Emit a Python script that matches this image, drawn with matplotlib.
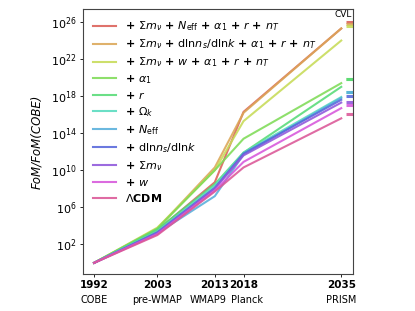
import numpy as np
import matplotlib
matplotlib.use("Agg")
import matplotlib.pyplot as plt
import seaborn as sns

years = [1992, 2003, 2013, 2018, 2035]
experiments = ["COBE", "pre-WMAP", "WMAP9", "Planck", "PRISM"]

labels = [
    r"+ $\Sigma m_\nu$ + $N_{\rm eff}$ + $\alpha_1$ + $r$ + $n_T$",
    r"+ $\Sigma m_\nu$ + ${\rm dln}n_s/{\rm dln}k$ + $\alpha_1$ + $r$ + $n_T$",
    r"+ $\Sigma m_\nu$ + $w$ + $\alpha_1$ + $r$ + $n_T$",
    r"+ $\alpha_1$",
    r"+ $r$",
    r"+ $\Omega_k$",
    r"+ $N_{\rm eff}$",
    r"+ ${\rm dln}n_s/{\rm dln}k$",
    r"+ $\Sigma m_\nu$",
    r"+ $w$",
    r"$\Lambda$CDM",
]

# log10(FoM/FoM(COBE)) per model at each experiment
logfom_sum_neff = [0, 3.5, 8.7, 16.3, 25.3]
logfom_sum_dlnns = [0, 3.7, 10.3, 16.2, 25.3]
logfom_sum_w = [0, 3.8, 10.0, 15.3, 24.0]
logfom_alpha1 = [0, 3.7, 10.0, 13.4, 19.4]
logfom_r = [0, 3.6, 8.5, 11.9, 19.0]
logfom_omegak = [0, 3.4, 8.3, 11.9, 17.9]
logfom_neff = [0, 3.2, 7.2, 11.7, 17.8]
logfom_dlnns = [0, 3.3, 8.1, 11.8, 17.6]
logfom_summnu = [0, 3.2, 8.0, 11.6, 17.3]
logfom_w = [0, 3.1, 7.8, 10.9, 16.7]
logfom_lcdm = [0, 3.0, 7.7, 10.3, 15.6]

# cosmic-variance-limit values
logfom_cvl = [25.95, 25.75, 25.55, 19.9, 19.9, 18.45, 18.45, 18.0, 17.4, 17.0, 16.1]

series = [logfom_sum_neff, logfom_sum_dlnns, logfom_sum_w, logfom_alpha1, logfom_r,
          logfom_omegak, logfom_neff, logfom_dlnns, logfom_summnu, logfom_w, logfom_lcdm]

colors = sns.color_palette("hls", 11)

fig = plt.figure(figsize=(4.15, 3.11), dpi=100)
ax = fig.add_axes([0.199, 0.119, 0.651, 0.852])

for vals, lab, c, cvl in zip(series, labels, colors, logfom_cvl):
    ax.plot(years, 10.0 ** np.array(vals), color=c, lw=1.5, alpha=0.88, label=lab)
    ax.plot([2035.9, 2037], [10.0 ** cvl] * 2, color=c, lw=2.2, alpha=0.88, solid_capstyle="butt")

ax.set_yscale("log")
ax.set_xlim(1990, 2037)
ax.set_ylim(10 ** -1.2, 10 ** 27.4)
ax.set_yticks([10.0 ** k for k in range(2, 27, 4)])
ax.yaxis.set_minor_locator(matplotlib.ticker.NullLocator())
ax.tick_params(axis="y", labelsize=8, length=2.5, width=0.6, pad=2)
ax.set_xticks(years)
ax.set_xticklabels([str(y) for y in years], fontweight="bold", fontsize=7.5)
ax.tick_params(axis="x", length=2.5, width=0.6, pad=2)
name_shift = [0, 0, -1.2, 0.6, 0]
for y, e, dx in zip(years, experiments, name_shift):
    ax.text(y + dx, -0.078, e, transform=ax.get_xaxis_transform(), ha="center", va="top", fontsize=7)

ax.text(2035.3, 10 ** 26.8, "CVL", ha="center", va="center", fontsize=6.5)
ax.set_ylabel("FoM/FoM(COBE)", fontsize=8.5, style="italic", labelpad=5)
for s in ax.spines.values():
    s.set_color("#444444")
    s.set_linewidth(0.8)

leg = ax.legend(loc="upper left", frameon=False, prop={"weight": "bold", "size": 8},
                handlelength=2.1, handletextpad=0.8, labelspacing=0.37,
                borderaxespad=0.5, borderpad=0.45)
for l in leg.get_lines():
    l.set_alpha(0.88)

fig.savefig("out.png", dpi=100)
